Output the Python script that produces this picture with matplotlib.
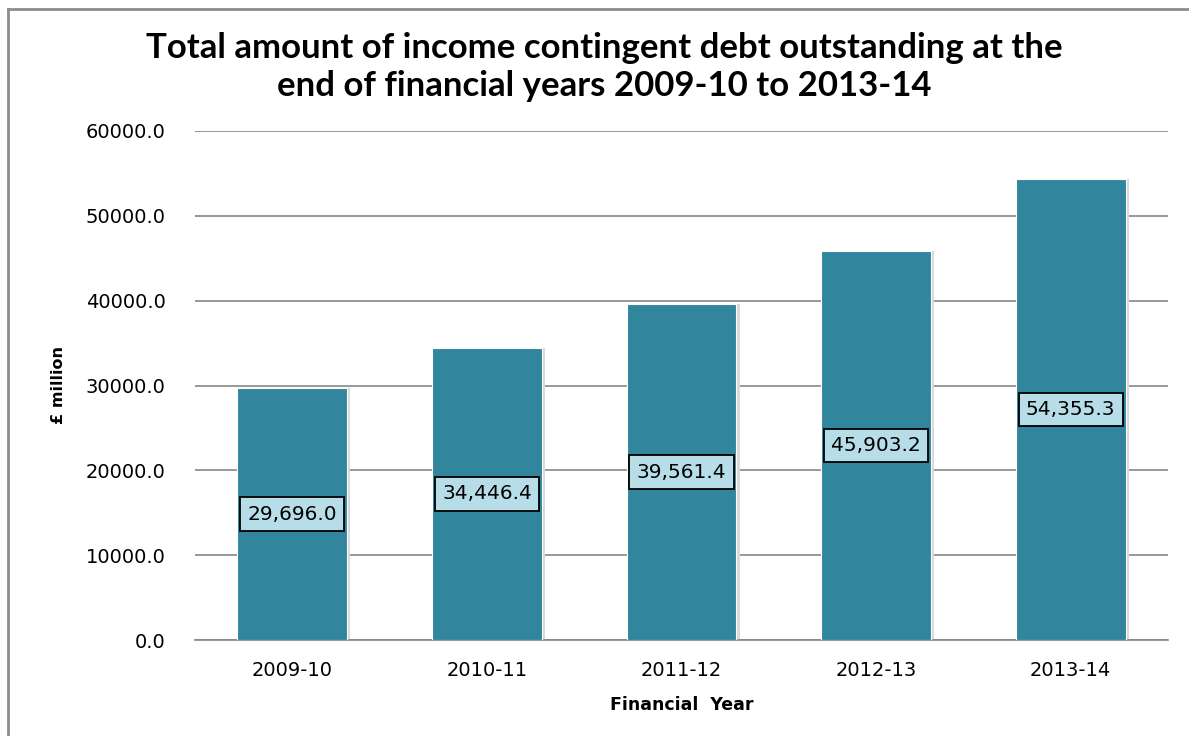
"""
Income contingent debt outstanding, bar chart
"""

import matplotlib
matplotlib.use("Agg")
import matplotlib.pyplot as plt
from matplotlib.lines import Line2D

years = ["2009-10", "2010-11", "2011-12", "2012-13", "2013-14"]
debt = [29696.0, 34446.4, 39561.4, 45903.2, 54355.3]
yticks = [0, 10000, 20000, 30000, 40000, 50000, 60000]

bar_col = "#31859C"
grid_col = "#868686"

plt.rcParams["font.family"] = "DejaVu Sans"

fig = plt.figure(figsize=(11.89, 7.36), dpi=100)
ax = fig.add_axes([195 / 1189, 1 - 640 / 736, 973 / 1189, 509 / 736])

x = range(len(years))
# soft shadow on the right of each bar
ax.bar([i + 0.014 for i in x], debt, width=0.57, color="#d9d9d9", zorder=2)
ax.bar(x, debt, width=0.565, color=bar_col, edgecolor="white", linewidth=0.8, zorder=3)

for i, v in enumerate(debt):
    ax.text(i, v / 2, f"{v:,.1f}", ha="center", va="center", fontsize=14.5, zorder=5,
            bbox=dict(boxstyle="square,pad=0.36", fc="#B7DEE8", ec="black", lw=1.3))

ax.set_xlim(-0.5, 4.5)
ax.set_ylim(0, 60000)
ax.set_yticks(yticks)
ax.set_yticklabels([f"{t:.1f}" for t in yticks])
ax.set_xticks(list(x))
ax.set_xticklabels(years)
ax.tick_params(length=0, labelsize=14)
ax.tick_params(axis="y", pad=21)
ax.tick_params(axis="x", pad=15)
ax.yaxis.grid(True, color=grid_col, linewidth=1.2, zorder=0)
ax.set_axisbelow(True)
for s in ["top", "right", "left"]:
    ax.spines[s].set_visible(False)
ax.spines["bottom"].set_color(grid_col)
ax.spines["bottom"].set_linewidth(1.2)

ax.set_xlabel("Financial  Year", fontsize=12.5, fontweight="bold", labelpad=12)
ax.set_ylabel("£ million", fontsize=11.5, fontweight="bold", labelpad=14)

fig.text(604 / 1189, 1 - 67 / 736,
         "Total amount of income contingent debt outstanding at the\nend of financial years 2009-10 to 2013-14",
         ha="center", va="center", fontsize=25, fontweight="bold", family="Lato",
         linespacing=1.25)

# outer chart frame
fig.add_artist(Line2D([8 / 1189, 8 / 1189], [0, 1 - 9 / 736], transform=fig.transFigure,
                      color="#8c8c8c", lw=2))
fig.add_artist(Line2D([8 / 1189, 1], [1 - 9 / 736, 1 - 9 / 736], transform=fig.transFigure,
                      color="#8c8c8c", lw=2))

fig.savefig("out.png", dpi=100)
